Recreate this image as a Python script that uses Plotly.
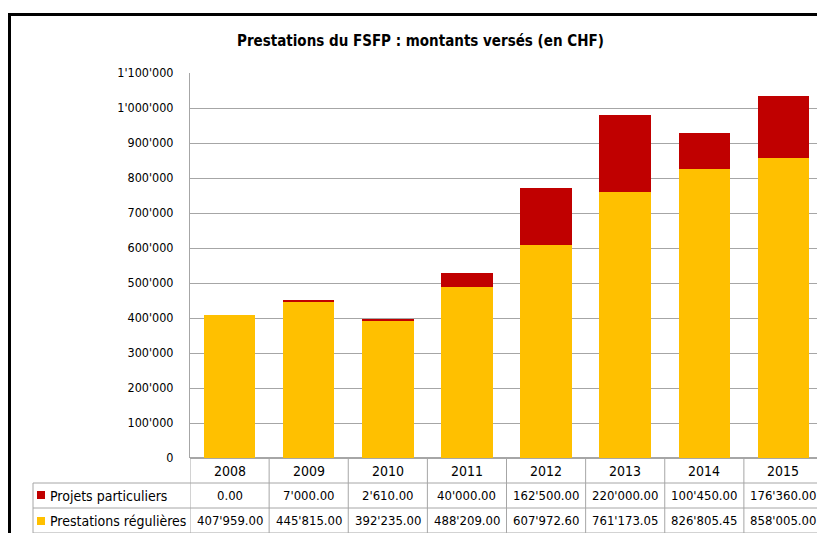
import plotly.graph_objects as go

years = ["2008", "2009", "2010", "2011", "2012", "2013", "2014", "2015"]
projets = [0.00, 7000.00, 2610.00, 40000.00, 162500.00, 220000.00, 100450.00, 176360.00]
prestations = [407959.00, 445815.00, 392235.00, 488209.00, 607972.60, 761173.05, 826805.45, 858005.00]
projets_txt = ["0.00", "7'000.00", "2'610.00", "40'000.00", "162'500.00", "220'000.00", "100'450.00", "176'360.00"]
prestations_txt = ["407'959.00", "445'815.00", "392'235.00", "488'209.00", "607'972.60", "761'173.05", "826'805.45", "858'005.00"]
tick_vals = [0, 100000, 200000, 300000, 400000, 500000, 600000, 700000, 800000, 900000, 1000000, 1100000]
tick_text = ["0", "100'000", "200'000", "300'000", "400'000", "500'000", "600'000", "700'000",
             "800'000", "900'000", "1'000'000", "1'100'000"]
title = "Prestations du FSFP : montants versés (en CHF)"
name_proj = "Projets particuliers"
name_prest = "Prestations régulières"

# page body has an 8px margin: figure origin sits at (8, 8) in the window
OX, OY = 8, 8
W, H = 825 - OX, 533 - OY
# plot area in window pixels
L, R, T, B = 190, 823, 73, 458
FONT = "DejaVu Sans Condensed"
YELLOW = "#FFC000"
RED = "#C00000"
GRID = "#A6A6A6"


def px(x):
    return (x - L) / (R - L)


def py(y):
    return (B - y) / (B - T)


fig = go.Figure()
fig.add_trace(go.Bar(x=years, y=prestations, name=name_prest, marker=dict(color=YELLOW, line=dict(width=0)), width=0.65))
fig.add_trace(go.Bar(x=years, y=projets, name=name_proj, marker=dict(color=RED, line=dict(width=0)), width=0.65))

shapes = []
annotations = []

# table lines
row_lines = [483, 508, 533]
for yl in row_lines:
    shapes.append(dict(type="line", xref="paper", yref="paper", x0=px(33), x1=1, y0=py(yl), y1=py(yl),
                       line=dict(color=GRID, width=1)))
for k in range(len(years) + 1):
    shapes.append(dict(type="line", xref="x", yref="paper", x0=k - 0.5, x1=k - 0.5, y0=0, y1=py(533),
                       line=dict(color=GRID, width=1)))
shapes.append(dict(type="line", xref="paper", yref="paper", x0=px(33), x1=px(33), y0=py(483), y1=py(533),
                   line=dict(color=GRID, width=1)))

# legend keys
shapes.append(dict(type="rect", xref="paper", yref="paper", x0=px(37), x1=px(45), y0=py(491), y1=py(499),
                   fillcolor=RED, line=dict(width=0)))
shapes.append(dict(type="rect", xref="paper", yref="paper", x0=px(37), x1=px(45), y0=py(517), y1=py(525),
                   fillcolor=YELLOW, line=dict(width=0)))

# outer black border (partial, chart is cropped)
shapes.append(dict(type="line", xref="paper", yref="paper", x0=px(9.5), x1=px(9.5), y0=py(13), y1=py(540),
                   line=dict(color="black", width=3)))
shapes.append(dict(type="line", xref="paper", yref="paper", x0=px(8), x1=px(830), y0=py(14.5), y1=py(14.5),
                   line=dict(color="black", width=3)))

tf = dict(family=FONT, size=13, color="black")
lf = dict(family=FONT, size=14, color="black")
for i, yr in enumerate(years):
    annotations.append(dict(x=i, y=py(470.5), xref="x", yref="paper", text=yr, showarrow=False, font=lf,
                            xanchor="center", yanchor="middle"))
    annotations.append(dict(x=i, y=py(495.5), xref="x", yref="paper", text=projets_txt[i], showarrow=False, font=tf,
                            xanchor="center", yanchor="middle"))
    annotations.append(dict(x=i, y=py(520.5), xref="x", yref="paper", text=prestations_txt[i], showarrow=False, font=tf,
                            xanchor="center", yanchor="middle"))

annotations.append(dict(x=px(48), y=py(495.5), xref="paper", yref="paper", text=name_proj, showarrow=False,
                        xanchor="left", yanchor="middle", font=lf))
annotations.append(dict(x=px(48), y=py(520.5), xref="paper", yref="paper", text=name_prest, showarrow=False,
                        xanchor="left", yanchor="middle", font=lf))
annotations.append(dict(x=px(420), y=py(41), xref="paper", yref="paper", text="<b>" + title + "</b>",
                        showarrow=False, xanchor="center", yanchor="middle",
                        font=dict(family=FONT, size=15, color="black")))

fig.update_layout(
    width=W, height=H,
    margin=dict(l=L - OX, r=W - (R - OX), t=T - OY, b=H - (B - OY), pad=0),
    paper_bgcolor="white", plot_bgcolor="white",
    barmode="stack", showlegend=False,
    shapes=shapes, annotations=annotations,
    xaxis=dict(showticklabels=False, showgrid=False, showline=False, zeroline=False, range=[-0.5, 7.5]),
    yaxis=dict(range=[0, 1100000], tickvals=tick_vals, ticktext=tick_text, showgrid=True, gridcolor=GRID,
               gridwidth=1, showline=True, linecolor=GRID, linewidth=1, zeroline=True, zerolinecolor=GRID,
               ticks="", ticklabelstandoff=13, tickfont=dict(family=FONT, size=12.5, color="black")),
)
fig.write_html("out.html")
